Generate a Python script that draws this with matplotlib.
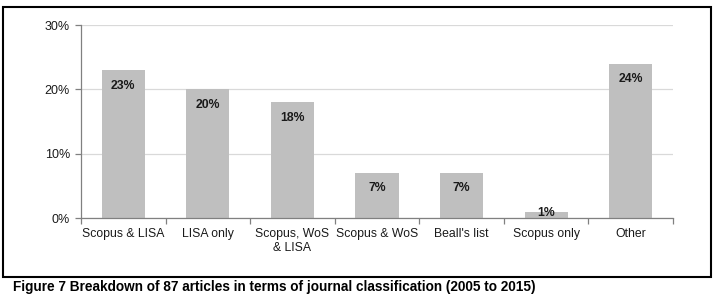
import numpy as np
import matplotlib.pyplot as plt
from matplotlib.patches import Rectangle
from matplotlib.ticker import FuncFormatter

plt.rcParams['font.family'] = ['Liberation Sans', 'DejaVu Sans']

categories = ['Scopus & LISA', 'LISA only', 'Scopus, WoS\n& LISA', 'Scopus & WoS',
              "Beall's list", 'Scopus only', 'Other']
values = [23, 20, 18, 7, 7, 1, 24]

fig = plt.figure(figsize=(7.17, 3.01), dpi=100)
ax = fig.add_axes([0.113, 0.2757, 0.8257, 0.641])

x = np.arange(len(categories))
ax.bar(x, values, width=0.51, color='#bfbfbf', zorder=2)

for xi, v in zip(x, values):
    y = v - 2.4 if v > 4 else v * 0.8
    ax.text(xi, y, f'{v}%', ha='center', va='center', fontsize=8.8, fontweight='bold',
            color='#1a1a1a', zorder=3)

ax.set_xlim(-0.5, len(categories) - 0.5)
ax.set_ylim(0, 30)
ax.set_yticks([0, 10, 20, 30])
ax.yaxis.set_major_formatter(FuncFormatter(lambda v, p: f'{v:.0f}%'))
ax.grid(axis='y', color='#d9d9d9', linewidth=0.9, zorder=0)

# category labels centered, tick marks at boundaries
ax.set_xticks(x)
ax.set_xticklabels(categories, fontsize=8.8, color='#1a1a1a', linespacing=1.3)
ax.tick_params(axis='x', length=0, pad=7)
ax.set_xticks(np.arange(len(categories) + 1) - 0.5, minor=True)
ax.tick_params(axis='x', which='minor', length=4, color='#808080', width=0.9)
ax.tick_params(axis='y', length=4, color='#808080', width=0.9, labelsize=9,
               labelcolor='#1a1a1a', pad=4)

for s in ['top', 'right']:
    ax.spines[s].set_visible(False)
for s in ['left', 'bottom']:
    ax.spines[s].set_color('#808080')
    ax.spines[s].set_linewidth(0.9)

fig.patches.append(Rectangle((0.0042, 0.0797), 0.9874, 0.8973, transform=fig.transFigure,
                             fill=False, edgecolor='black', linewidth=1.5))

fig.text(0.018, 0.045, 'Figure 7 Breakdown of 87 articles in terms of journal classification (2005 to 2015)',
         fontsize=9.8, fontweight='bold', va='center', ha='left')

fig.savefig('out.png', dpi=100)
